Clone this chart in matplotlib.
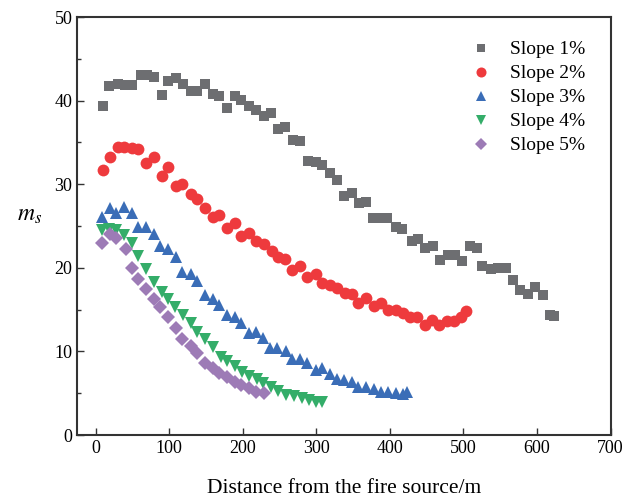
import matplotlib
matplotlib.use("Agg")
import matplotlib.pyplot as plt
from matplotlib.ticker import MultipleLocator

plt.rcParams['font.family'] = ['Liberation Serif', 'DejaVu Serif']
plt.rcParams['mathtext.fontset'] = 'stix'

# slope 1%
x1 = [10, 18, 30, 40, 49, 61, 70, 79, 90, 99, 109, 119, 129, 138, 149, 159, 168, 179, 189, 198,
      209, 218, 229, 239, 248, 258, 268, 278, 289, 299, 308, 318, 328, 338, 348, 358, 368, 377, 388, 396,
      408, 417, 430, 438, 448, 458, 468, 479, 489, 498, 509, 518, 525, 537, 547, 558, 567, 577, 588, 597,
      608, 618, 623]
y1 = [39.3, 41.8, 42.0, 41.9, 41.9, 43.1, 43.1, 42.8, 40.7, 42.4, 42.7, 42.0, 41.2, 41.2, 42.0, 40.8, 40.6, 39.1, 40.6, 40.1,
      39.4, 38.9, 38.2, 38.5, 36.6, 36.8, 35.3, 35.2, 32.8, 32.6, 32.3, 31.3, 30.5, 28.6, 28.9, 27.8, 27.9, 25.9, 25.9, 25.9,
      24.9, 24.6, 23.2, 23.5, 22.4, 22.6, 20.9, 21.5, 21.5, 20.8, 22.6, 22.4, 20.2, 19.8, 20.0, 20.0, 18.6, 17.3, 16.9, 17.7,
      16.7, 14.4, 14.2]

# slope 2%
x2 = [10, 19, 30, 39, 49, 58, 69, 79, 90, 99, 109, 118, 129, 138, 149, 159, 168, 179, 189, 198,
      209, 218, 229, 240, 248, 258, 267, 278, 288, 299, 308, 319, 328, 339, 348, 357, 368, 379, 388, 398,
      408, 418, 428, 437, 448, 457, 467, 478, 487, 497, 503]
y2 = [31.7, 33.3, 34.4, 34.4, 34.3, 34.2, 32.5, 33.2, 31.0, 32.0, 29.8, 30.0, 28.8, 28.2, 27.2, 26.1, 26.3, 24.8, 25.4, 23.8,
      24.2, 23.2, 22.9, 22.0, 21.3, 21.0, 19.7, 20.2, 18.9, 19.3, 18.2, 18.0, 17.6, 17.0, 16.9, 15.8, 16.4, 15.4, 15.8, 14.9,
      14.9, 14.6, 14.1, 14.1, 13.2, 13.8, 13.2, 13.6, 13.6, 14.1, 14.8]

# slope 3%
x3 = [8, 19, 28, 39, 49, 58, 69, 79, 88, 98, 109, 118, 129, 138, 148, 159, 168, 178, 189, 198,
      208, 218, 228, 237, 247, 259, 267, 278, 288, 299, 308, 319, 328, 338, 349, 356, 368, 379, 388, 398,
      408, 418, 423]
y3 = [26.1, 27.1, 26.5, 27.3, 26.5, 24.9, 24.9, 24.1, 22.6, 22.3, 21.3, 19.5, 19.3, 18.4, 16.7, 16.3, 15.6, 14.4, 14.1, 13.4,
      12.2, 12.3, 11.6, 10.4, 10.4, 10.0, 9.1, 9.1, 8.6, 7.8, 8.0, 7.3, 6.7, 6.6, 6.3, 5.7, 5.7, 5.5, 5.1, 5.1,
      5.0, 4.9, 5.1]

# slope 4%
x4 = [8, 18, 28, 39, 50, 58, 69, 79, 90, 99, 108, 119, 130, 138, 149, 159, 170, 179, 189, 199,
      209, 219, 228, 239, 248, 259, 269, 280, 290, 299, 308]
y4 = [24.5, 24.7, 24.5, 23.9, 23.0, 21.4, 19.9, 18.3, 17.1, 16.3, 15.3, 14.3, 13.4, 12.3, 11.5, 10.5, 9.3, 8.9, 8.2, 7.5,
      7.0, 6.7, 6.2, 5.8, 5.3, 4.8, 4.7, 4.4, 4.2, 3.9, 3.9]

# slope 5%
x5 = [9, 19, 28, 41, 49, 58, 69, 79, 88, 98, 109, 118, 129, 138, 149, 159, 168, 178, 189, 198,
      208, 218, 229]
y5 = [23.0, 24.1, 23.6, 22.3, 20.0, 18.7, 17.5, 16.3, 15.3, 14.1, 12.8, 11.5, 10.7, 9.8, 8.6, 8.0, 7.4, 6.9, 6.3, 6.0,
      5.6, 5.2, 5.0]

labels = ['Slope 1%', 'Slope 2%', 'Slope 3%', 'Slope 4%', 'Slope 5%']

fig = plt.figure(figsize=(6.23, 5.0), dpi=100)
ax = fig.add_axes([0.124, 0.13, 0.856, 0.836])

ax.plot(x1, y1, 's', color='#6d6e71', ms=7.5, mew=0, label=labels[0])
ax.plot(x2, y2, 'o', color='#ee3a3d', ms=8.5, mew=0, label=labels[1])
ax.plot(x3, y3, '^', color='#3a6db7', ms=9, mew=0, label=labels[2])
ax.plot(x4, y4, 'v', color='#34ad69', ms=9, mew=0, label=labels[3])
ax.plot(x5, y5, 'D', color='#9d7bb6', ms=7, mew=0, label=labels[4])

ax.set_xlim(-25, 700)
ax.set_ylim(0, 50)
ax.xaxis.set_major_locator(MultipleLocator(100))
ax.yaxis.set_major_locator(MultipleLocator(10))
ax.yaxis.set_minor_locator(MultipleLocator(5))
ax.tick_params(which='both', direction='in', labelsize=13, color='#333333')
ax.tick_params(which='major', length=5, width=1)
ax.tick_params(which='minor', length=3, width=1)
for s in ax.spines.values():
    s.set_linewidth(1.5)
    s.set_color('#333333')

ax.set_xlabel('Distance from the fire source/m', fontsize=15.5, labelpad=16)
ax.set_ylabel('$m_s$', fontsize=17, rotation=0, labelpad=18)
ax.yaxis.set_label_coords(-0.09, 0.5)

leg = ax.legend(loc='upper right', bbox_to_anchor=(0.985, 0.985), frameon=False, fontsize=14,
                handletextpad=0.9, labelspacing=0.33, handlelength=1.2, markerscale=0.85)

fig.savefig('out.png', dpi=100)
